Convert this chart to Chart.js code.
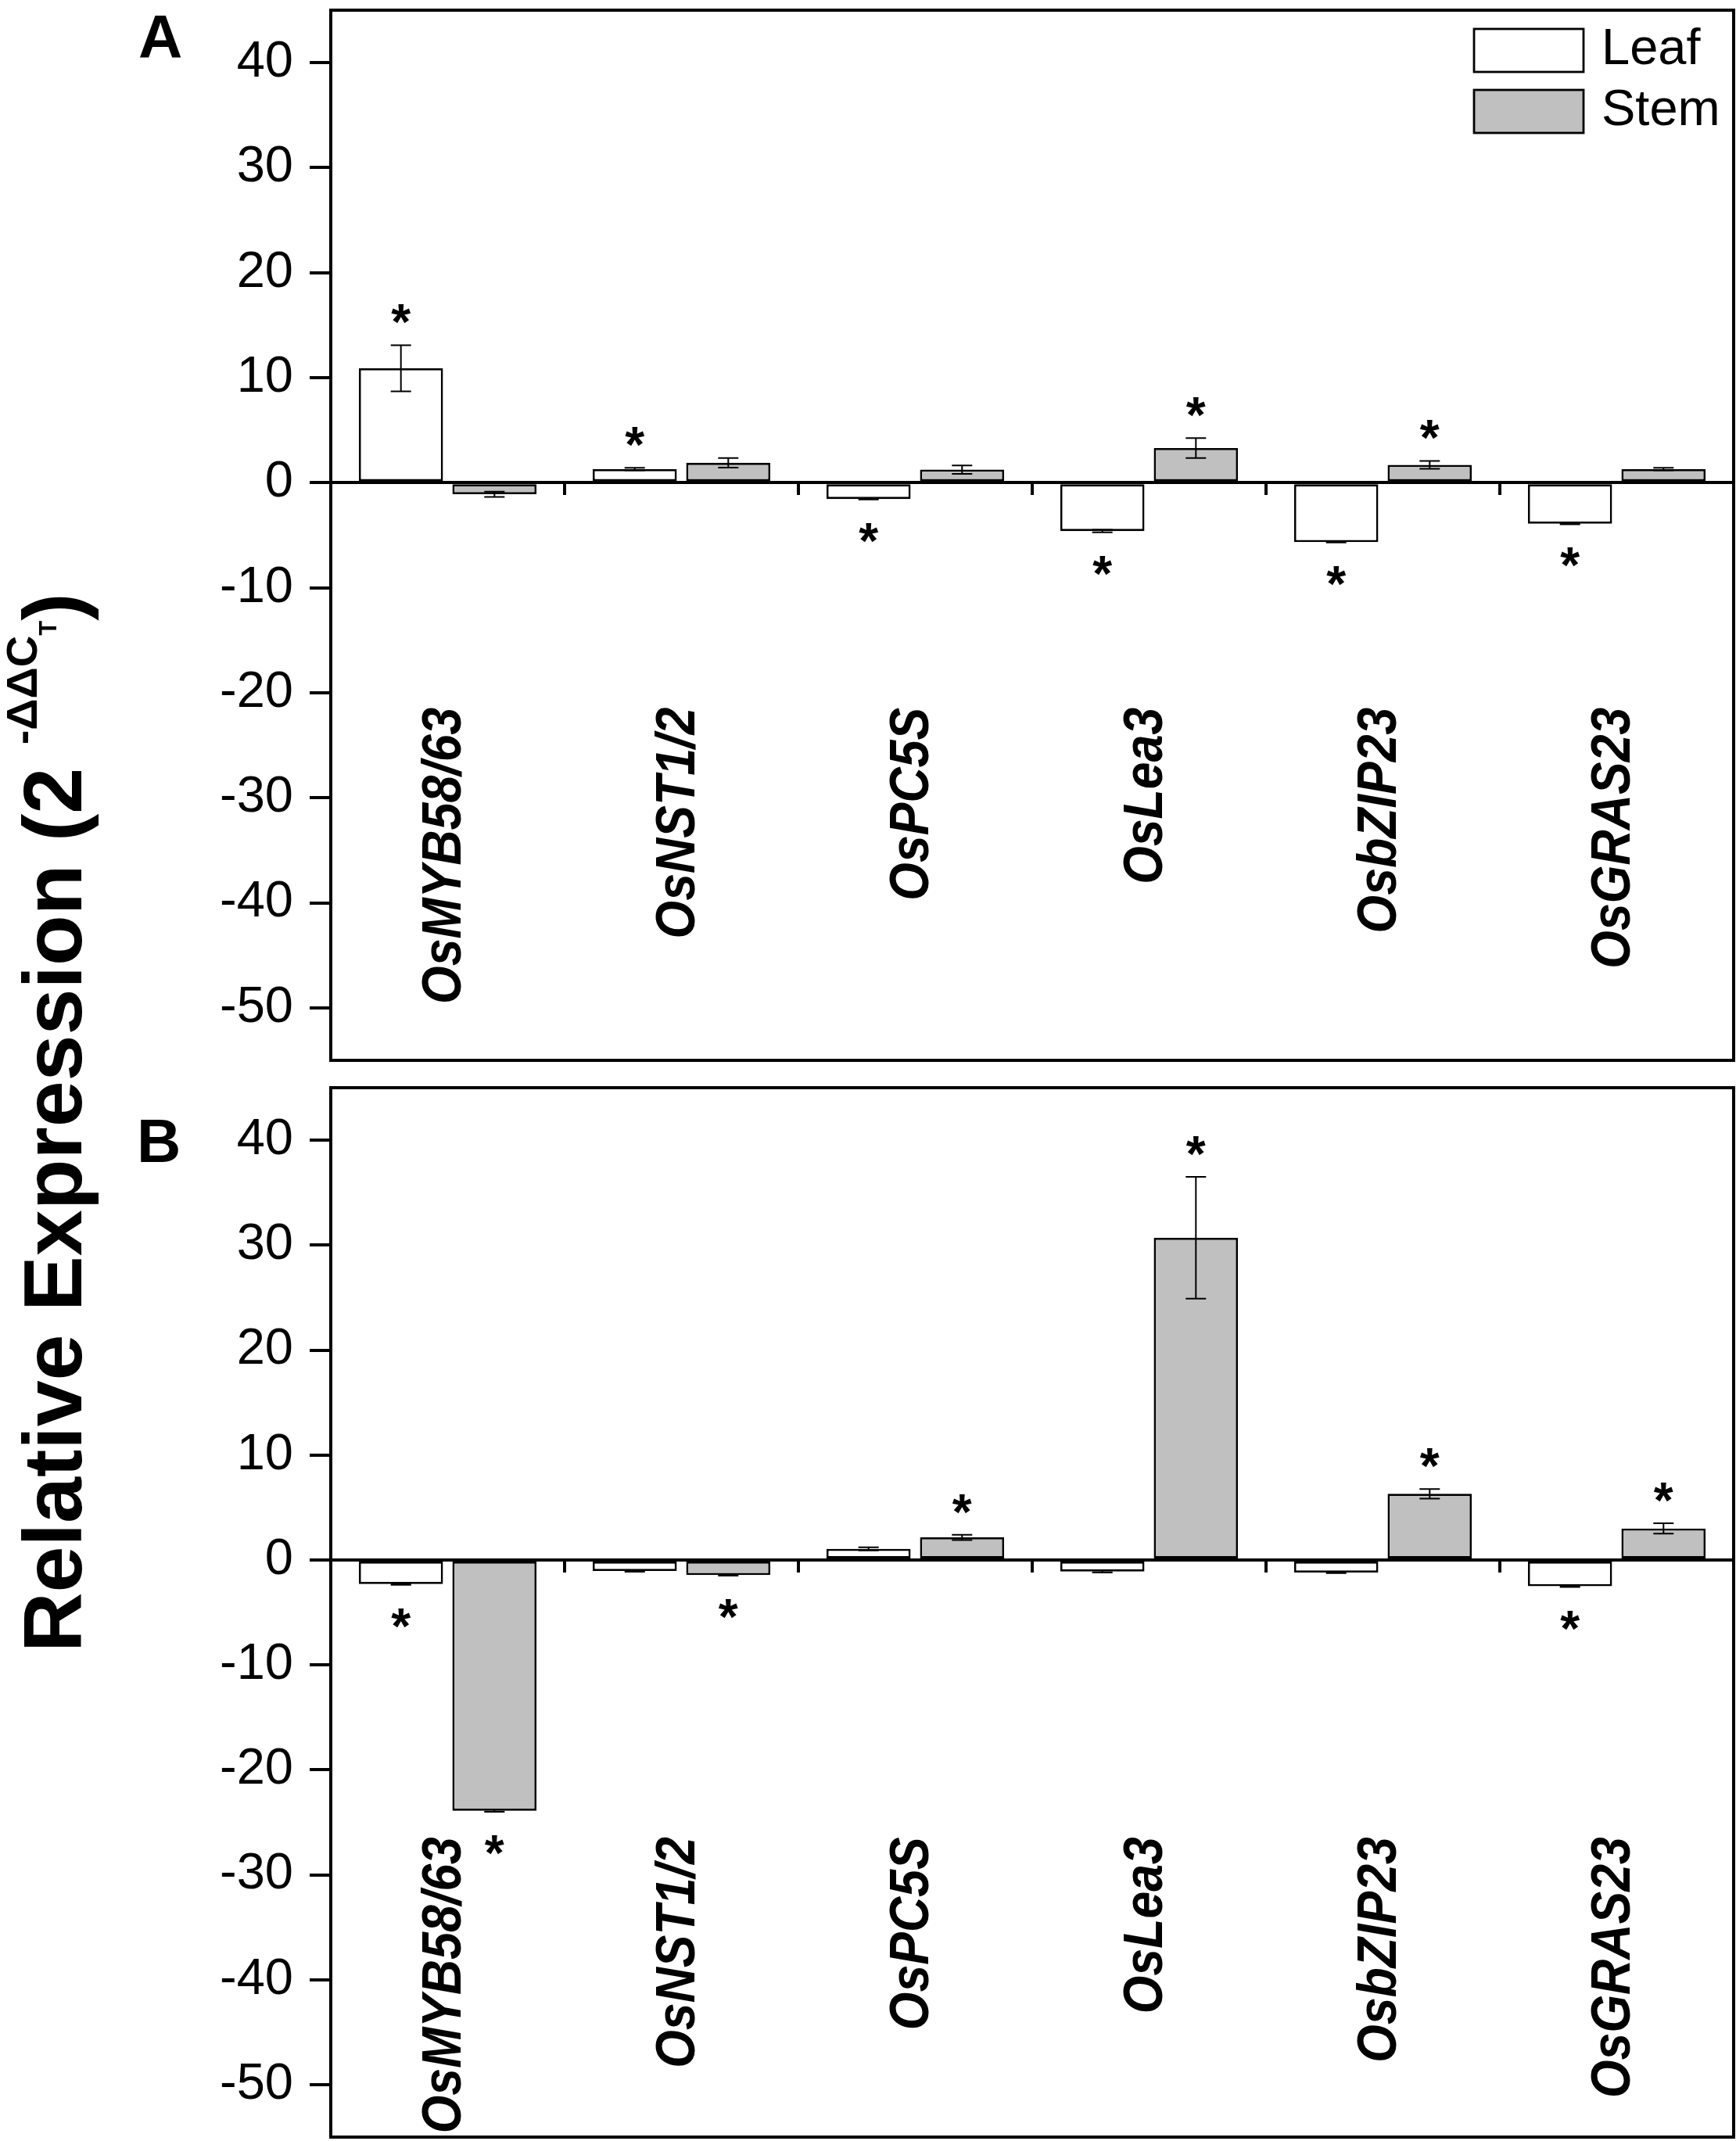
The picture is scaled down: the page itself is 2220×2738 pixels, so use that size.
<!DOCTYPE html>
<html>
<head>
<meta charset="utf-8">
<script src="https://cdn.jsdelivr.net/npm/chart.js@4.4.1/dist/chart.umd.min.js"></script>
<style>
  html, body { margin: 0; padding: 0; background: #fff; }
  #page { position: relative; width: 2220px; height: 2738px; overflow: hidden; font-family: 'Liberation Sans', Arial, sans-serif; color: #000; }
  canvas { position: absolute; left: 0; }
  #chartA { top: 0; }
  #chartB { top: 1378px; }
  .panel { position: absolute; font-weight: bold; font-size: 78px; line-height: 78px; }
  #ytitle { position: absolute; left: 0; top: 0; white-space: nowrap; font-weight: bold; font-size: 106px; line-height: 106px;
            transform-origin: 0 0; transform: translate(14px, 2113px) rotate(-90deg); }
  #ytitle .sup { font-size: 56px; position: relative; top: -57px; }
  #ytitle .sub { font-size: 31px; position: relative; top: -32px; }
</style>
</head>
<body>
<div id="page">
  <canvas id="chartA" width="2220" height="1372"></canvas>
  <canvas id="chartB" width="2220" height="1360"></canvas>
  <div class="panel" style="left:177px; top:8px;">A</div>
  <div class="panel" style="left:175px; top:1420px;">B</div>
  <div id="ytitle">Relative Expression (2 <span class="sup">-ΔΔC</span><span class="sub">T</span>)</div>
</div>
<script>
const genes = ['OsMYB58/63', 'OsNST1/2', 'OsPC5S', 'OsLea3', 'OsbZIP23', 'OsGRAS23'];
const yTicks = [-50, -40, -30, -20, -10, 0, 10, 20, 30, 40];

// panel A
const leafA = [10.9, 1.3, -1.55, -4.6, -5.65, -3.9];
const leafErrA = [2.2, 0.12, 0.05, 0.12, 0.03, 0.05];
const stemA = [-1.1, 1.9, 1.25, 3.3, 1.7, 1.3];
const stemErrA = [0.25, 0.45, 0.4, 0.95, 0.38, 0.12];
const leafStarA = [1, 1, 1, 1, 1, 1];
const stemStarA = [0, 0, 0, 1, 1, 0];

// panel B
const leafB = [-2.3, -1.05, 1.05, -1.1, -1.2, -2.5];
const leafErrB = [0.08, 0.08, 0.15, 0.1, 0.05, 0.08];
const stemB = [-23.9, -1.45, 2.15, 30.7, 6.3, 3.0];
const stemErrB = [0.1, 0.05, 0.25, 5.8, 0.45, 0.5];
const leafStarB = [1, 0, 0, 0, 0, 1];
const stemStarB = [1, 1, 1, 1, 1, 1];

const FONT = "'Liberation Sans', Arial, sans-serif";

const errorBars = {
    id: 'errorBars',
    afterDatasetsDraw(chart) {
        const ctx = chart.ctx;
        const y = chart.scales.y;
        ctx.save();
        ctx.strokeStyle = '#000';
        ctx.lineWidth = 2;
        chart.data.datasets.forEach((ds, di) => {
            chart.getDatasetMeta(di).data.forEach((bar, i) => {
                const hi = y.getPixelForValue(ds.data[i] + ds.err[i]);
                const lo = y.getPixelForValue(ds.data[i] - ds.err[i]);
                ctx.beginPath();
                ctx.moveTo(bar.x, hi); ctx.lineTo(bar.x, lo);
                ctx.moveTo(bar.x - 13, hi); ctx.lineTo(bar.x + 13, hi);
                ctx.moveTo(bar.x - 13, lo); ctx.lineTo(bar.x + 13, lo);
                ctx.stroke();
            });
        });
        ctx.restore();
    },
};

const stars = {
    id: 'stars',
    afterDatasetsDraw(chart) {
        const ctx = chart.ctx;
        const y = chart.scales.y;
        ctx.save();
        ctx.fillStyle = '#000';
        ctx.font = 'bold 64px ' + FONT;
        ctx.textAlign = 'center';
        ctx.textBaseline = 'alphabetic';
        chart.data.datasets.forEach((ds, di) => {
            chart.getDatasetMeta(di).data.forEach((bar, i) => {
                if (!ds.stars[i]) return;
                const v = ds.data[i];
                const cy = v >= 0
                    ? y.getPixelForValue(v + ds.err[i]) - 44
                    : y.getPixelForValue(v - ds.err[i]) + 38;
                ctx.fillText('*', bar.x, cy + 37);
            });
        });
        ctx.restore();
    },
};

const frame = {
    id: 'frame',
    afterDraw(chart) {
        const a = chart.chartArea;
        const ctx = chart.ctx;
        ctx.save();
        ctx.strokeStyle = '#000';
        ctx.lineWidth = 4;
        ctx.strokeRect(a.left, a.top, a.right - a.left, a.bottom - a.top);
        ctx.restore();
    },
};

function geneLabels(labelAt) {
    return {
        id: 'geneLabels',
        afterDatasetsDraw(chart) {
            const ctx = chart.ctx;
            const x = chart.scales.x;
            const y = chart.scales.y;
            ctx.save();
            ctx.fillStyle = '#000';
            ctx.font = 'italic bold 70px ' + FONT;
            ctx.textAlign = 'right';
            ctx.textBaseline = 'middle';
            chart.data.labels.forEach((lab, i) => {
                ctx.save();
                ctx.translate(x.getPixelForValue(i) - 3, y.getPixelForValue(labelAt));
                ctx.rotate(-Math.PI / 2);
                ctx.scale(0.894, 1);
                ctx.fillText(lab, 0, 0);
                ctx.restore();
            });
            ctx.restore();
        },
    };
}

const boxLegend = {
    id: 'boxLegend',
    afterDraw(chart) {
        const ctx = chart.ctx;
        const a = chart.chartArea;
        ctx.save();
        ctx.font = '65px ' + FONT;
        ctx.textBaseline = 'middle';
        ctx.textAlign = 'left';
        chart.data.datasets.forEach((ds, i) => {
            const bx = a.right - 332;
            const by = a.top + 24 + i * 78;
            ctx.fillStyle = ds.backgroundColor;
            ctx.fillRect(bx, by, 140, 55);
            ctx.strokeStyle = '#000';
            ctx.lineWidth = 2.8;
            ctx.strokeRect(bx, by, 140, 55);
            ctx.fillStyle = '#000';
            ctx.fillText(ds.label, bx + 163, by + 27);
        });
        ctx.restore();
    },
};

function makePanel(id, leaf, leafErr, stem, stemErr, leafStar, stemStar, labelAt, withLegend, pad) {
    const plugins = [errorBars, stars, geneLabels(labelAt), frame];
    if (withLegend) plugins.push(boxLegend);
    return new Chart(document.getElementById(id), {
        type: 'bar',
        data: {
            labels: genes,
            datasets: [
                {
                    label: 'Leaf',
                    data: leaf,
                    err: leafErr,
                    stars: leafStar,
                    backgroundColor: '#ffffff',
                    borderColor: '#000000',
                    borderWidth: 2.8,
                    borderSkipped: false,
                },
                {
                    label: 'Stem',
                    data: stem,
                    err: stemErr,
                    stars: stemStar,
                    backgroundColor: '#c0c0c0',
                    borderColor: '#000000',
                    borderWidth: 2.8,
                    borderSkipped: false,
                },
            ],
        },
        options: {
            responsive: false,
            animation: false,
            devicePixelRatio: 1,
            barPercentage: 0.9,
            categoryPercentage: 0.8,
            layout: { padding: pad },
            plugins: { legend: { display: false }, tooltip: { enabled: false } },
            scales: {
                x: {
                    type: 'category',
                    position: { y: 0 },
                    offset: true,
                    z: 1,
                    grid: {
                        offset: true,
                        drawOnChartArea: false,
                        drawTicks: true,
                        tickLength: 14,
                        tickWidth: 4,
                        tickColor: '#000',
                        lineWidth: 4,
                        color: '#000',
                    },
                    border: { display: true, color: '#000', width: 4 },
                    ticks: { display: false },
                    afterFit(s) {
                        s.height = 0;
                        s.paddingLeft = 0;
                        s.paddingRight = 0;
                    },
                },
                y: {
                    min: -55,
                    max: 45,
                    afterBuildTicks(s) { s.ticks = yTicks.map((v) => ({ value: v })); },
                    grid: {
                        drawOnChartArea: false,
                        tickLength: 27,
                        tickWidth: 4,
                        tickColor: '#000',
                        lineWidth: 4,
                        color: '#000',
                    },
                    border: { display: false },
                    ticks: { color: '#000', font: { family: FONT, size: 65 }, padding: 21 },
                    afterFit(s) {
                        s.width = 423;
                        s.paddingTop = 0;
                        s.paddingBottom = 0;
                    },
                },
            },
        },
        plugins: plugins,
    });
}

makePanel('chartA', leafA, leafErrA, stemA, stemErrA, leafStarA, stemStarA, -21.4, true,
    { top: 13, right: 3, bottom: 16, left: 0 });
makePanel('chartB', leafB, leafErrB, stemB, stemErrB, leafStarB, stemStarB, -26.4, false,
    { top: 13, right: 3, bottom: 5, left: 0 });
</script>
</body>
</html>
